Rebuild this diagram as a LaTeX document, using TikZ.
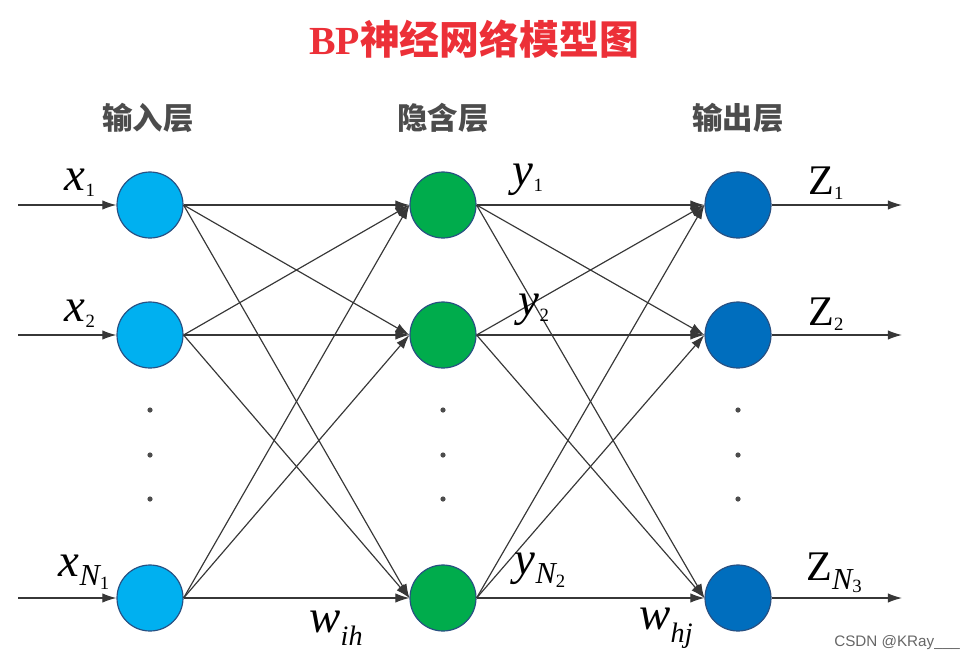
\documentclass[tikz,border=0pt]{standalone}
\usepackage{fontspec}
\setmainfont{Liberation Serif}
\newfontfamily\cjk{Noto Sans CJK SC}
\newfontfamily\wmfont{Liberation Sans}
\usepackage{tikz}
\usepackage{xcolor}
\usetikzlibrary{arrows.meta}
\definecolor{titlered}{RGB}{236,48,56}
\definecolor{inblue}{RGB}{0,176,240}
\definecolor{hidgreen}{RGB}{0,172,76}
\definecolor{outblue}{RGB}{0,110,190}
\definecolor{rimblue}{RGB}{40,80,130}
\definecolor{linkgray}{RGB}{55,55,55}
\tikzset{
  neuron/.style={circle,minimum size=1.98cm,inner sep=0pt,draw=rimblue,line width=1pt},
  link/.style={linkgray,line width=1pt},
  sym/.style={font=\fontsize{40}{40}\selectfont\itshape,inner sep=0pt},
  outsym/.style={font=\fontsize{36}{36}\selectfont,inner sep=0pt},
  layer/.style={font=\fontsize{26}{26}\selectfont\cjk\bfseries,text=black!70},
}
\newcommand{\sub}[1]{\raisebox{-0.12em}{\fontsize{16}{16}\selectfont\upshape #1}}
\newcommand{\subN}[1]{\raisebox{-0.2em}{\fontsize{26}{26}\selectfont\itshape N\sub{#1}}}
\newcommand{\subw}[1]{\raisebox{-0.28em}{\fontsize{24}{24}\selectfont\itshape #1}}
\begin{document}
\begin{tikzpicture}[>={Latex[length=12pt,width=8pt]},x=0.03cm,y=-0.03cm]
        \useasboundingbox(0,0)rectangle(976,660);
        \node[font=\fontsize{34}{34}\selectfont\bfseries,text=titlered](title)at(474,39){BP{\cjk 神经网络模型图}};
        \node[layer](Lin)at(148,118){输入层};
        \node[layer](Lhid)at(443,118){隐含层};
        \node[layer](Lout)at(738,118){输出层};
        \foreach \n/\y in{1/205,2/335,3/598}{
        \node[neuron,fill=inblue](i\n)at(150,\y){};
        \node[neuron,fill=hidgreen](h\n)at(443,\y){};
        \node[neuron,fill=outblue](o\n)at(738,\y){};
        \coordinate(in\n)at(18,\y);
        \coordinate(out\n)at(902,\y);
        \draw[link,->](in\n)--(i\n.west);
        \draw[link,->](o\n.east)--(out\n);
        }
        \foreach \a in{1,2,3}{
        \foreach \b in{1,2,3}{
        \draw[link,->](i\a.east)--(h\b.west);
        \draw[link,->](h\a.east)--(o\b.west);
        }}
        \foreach \x in{150,443,738}{
        \foreach \y in{410,455,499}{
        \fill[black!70](\x,\y)circle(2.6);
        }}
        \node[sym](x1)at(80,183){x\sub{1}};
        \node[sym](x2)at(80,314){x\sub{2}};
        \node[sym](xN)at(84,572){x\subN{1}};
        \node[sym](y1)at(528,180){y\sub{1}};
        \node[sym](y2)at(534,310){y\sub{2}};
        \node[sym](yN)at(540,570){y\subN{2}};
        \node[outsym](z1)at(826,183){Z\sub{1}};
        \node[outsym](z2)at(826,314){Z\sub{2}};
        \node[outsym](zN)at(834,573){Z\subN{3}};
        \node[sym](wih)at(336,628){w\subw{ih}};
        \node[sym](whj)at(666,628){w\subw{hj}};
        \node[font=\wmfont\fontsize{13}{13}\selectfont,text=black!60](mark)at(897,643){CSDN @KRay\_\_\_};
    \end{tikzpicture}
\end{document}
